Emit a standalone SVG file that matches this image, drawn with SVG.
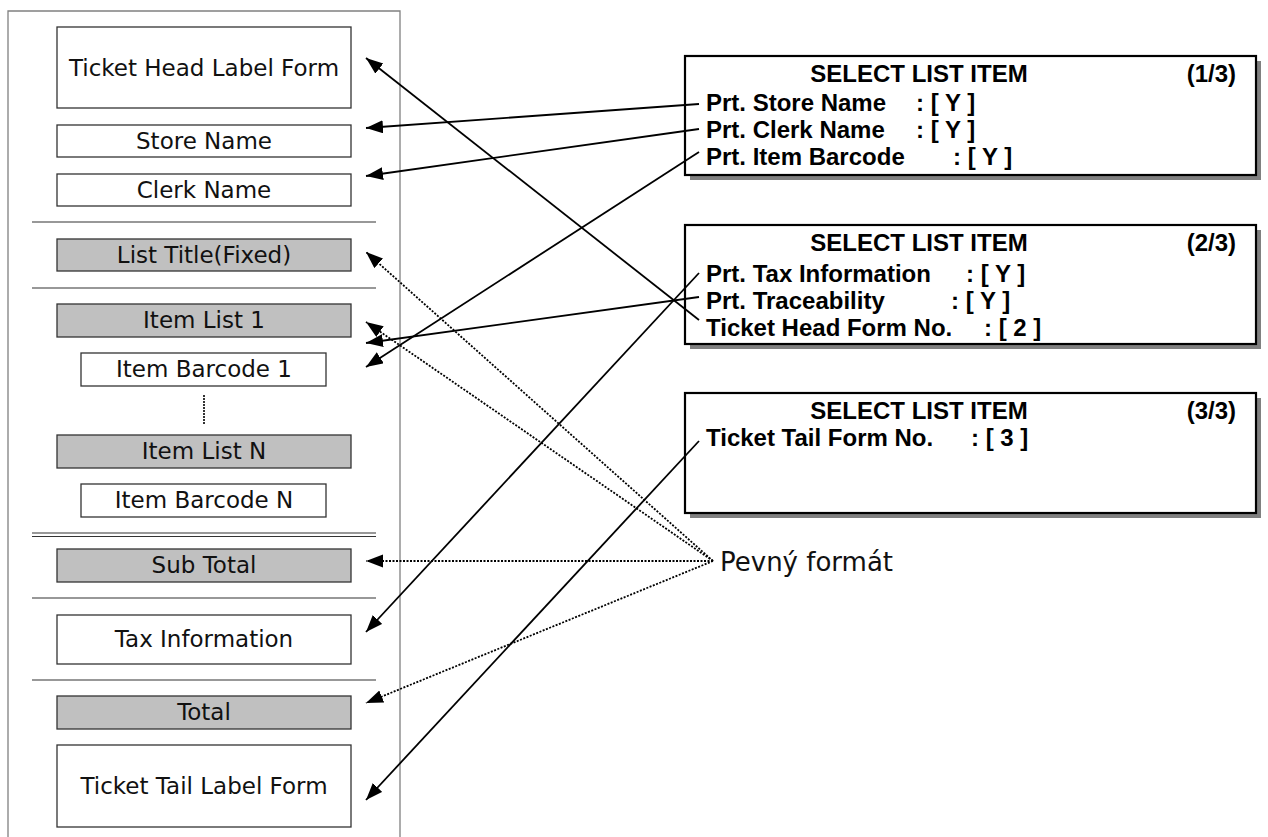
<svg xmlns="http://www.w3.org/2000/svg" width="1268" height="837" viewBox="0 0 1268 837">
<style>
.frame{fill:none;stroke:#808080;stroke-width:1.3}
.sep{stroke:#333;stroke-width:1.2}
.box{fill:#fff;stroke:#333;stroke-width:1.3}
.gray{fill:#c0c0c0;stroke:#333;stroke-width:1.3}
.lbl{font-family:"DejaVu Sans",Verdana,sans-serif;font-size:23px;fill:#111;text-anchor:middle}
.panel{fill:#fff;stroke:#000;stroke-width:2.2}
.shadow{fill:#808080}
.pt{font-family:"Liberation Sans",Arial,sans-serif;font-weight:bold;font-size:24px;fill:#000}
.ttl{text-anchor:middle}
.pg{text-anchor:end}
.conn{stroke:#000;stroke-width:1.8;fill:none}
.dot{stroke:#000;stroke-width:1.8;fill:none;stroke-dasharray:2 1.5}
.note{font-family:"DejaVu Sans",Verdana,sans-serif;font-size:26px;fill:#111}
</style>
<defs>
<marker id="ah" markerUnits="userSpaceOnUse" markerWidth="18" markerHeight="14" refX="17" refY="6.5" orient="auto">
<path d="M0,0 L17,6.5 L0,13 z" fill="#000"/>
</marker>
</defs>
<rect width="1268" height="837" fill="#fff"/>

<g id="ticket-frame">
<polyline class="frame" points="8,837 8,11 400,11 400,837"/>
<line class="sep" x1="32" y1="222" x2="376" y2="222"/>
<line class="sep" x1="32" y1="288" x2="376" y2="288"/>
<line class="sep" x1="32" y1="533" x2="376" y2="533"/>
<line class="sep" x1="32" y1="536.5" x2="376" y2="536.5"/>
<line class="sep" x1="32" y1="598" x2="376" y2="598"/>
<line class="sep" x1="32" y1="680" x2="376" y2="680"/>
<line x1="204" y1="395" x2="204" y2="425" stroke="#000" stroke-width="1.6" stroke-dasharray="2 1"/>
</g>

<g id="ticket-head"><rect class="box" x="57" y="27" width="294" height="81"/><text class="lbl" x="204" y="75.5">Ticket Head Label Form</text></g>
<g id="store-name"><rect class="box" x="57" y="125" width="294" height="32"/><text class="lbl" x="204" y="149">Store Name</text></g>
<g id="clerk-name"><rect class="box" x="57" y="174" width="294" height="32"/><text class="lbl" x="204" y="198">Clerk Name</text></g>
<g id="list-title"><rect class="gray" x="57" y="239" width="294" height="32"/><text class="lbl" x="204" y="263">List Title(Fixed)</text></g>
<g id="item-list-1"><rect class="gray" x="57" y="304" width="294" height="33"/><text class="lbl" x="204" y="328">Item List 1</text></g>
<g id="item-barcode-1"><rect class="box" x="81" y="353" width="245" height="33"/><text class="lbl" x="204" y="377">Item Barcode 1</text></g>
<g id="item-list-n"><rect class="gray" x="57" y="435" width="294" height="33"/><text class="lbl" x="204" y="459">Item List N</text></g>
<g id="item-barcode-n"><rect class="box" x="81" y="484" width="245" height="33"/><text class="lbl" x="204" y="508">Item Barcode N</text></g>
<g id="sub-total"><rect class="gray" x="57" y="549" width="294" height="33"/><text class="lbl" x="204" y="573">Sub Total</text></g>
<g id="tax-information"><rect class="box" x="57" y="615" width="294" height="49"/><text class="lbl" x="204" y="647">Tax Information</text></g>
<g id="total"><rect class="gray" x="57" y="696" width="294" height="33"/><text class="lbl" x="204" y="720">Total</text></g>
<g id="ticket-tail"><rect class="box" x="57" y="745" width="294" height="82"/><text class="lbl" x="204" y="794">Ticket Tail Label Form</text></g>

<g id="panel-1">
<rect class="shadow" x="690" y="61" width="571" height="119"/>
<rect class="panel" x="685" y="56" width="571" height="119"/>
<text class="pt ttl" x="919" y="82">SELECT LIST ITEM</text>
<text class="pt pg" x="1236" y="82">(1/3)</text>
<text class="pt" x="706" y="111">Prt. Store Name</text>
<text class="pt" x="916" y="111">: [ Y ]</text>
<text class="pt" x="706" y="138">Prt. Clerk Name</text>
<text class="pt" x="916" y="138">: [ Y ]</text>
<text class="pt" x="706" y="165">Prt. Item Barcode</text>
<text class="pt" x="953" y="165">: [ Y ]</text>
</g>

<g id="panel-2">
<rect class="shadow" x="690" y="230" width="571" height="119"/>
<rect class="panel" x="685" y="225" width="571" height="119"/>
<text class="pt ttl" x="919" y="251">SELECT LIST ITEM</text>
<text class="pt pg" x="1236" y="251">(2/3)</text>
<text class="pt" x="706" y="282">Prt. Tax Information</text>
<text class="pt" x="966" y="282">: [ Y ]</text>
<text class="pt" x="706" y="309">Prt. Traceability</text>
<text class="pt" x="951" y="309">: [ Y ]</text>
<text class="pt" x="706" y="336">Ticket Head Form No.</text>
<text class="pt" x="984" y="336">: [ 2 ]</text>
</g>

<g id="panel-3">
<rect class="shadow" x="690" y="398" width="571" height="120"/>
<rect class="panel" x="685" y="393" width="571" height="120"/>
<text class="pt ttl" x="919" y="419">SELECT LIST ITEM</text>
<text class="pt pg" x="1236" y="419">(3/3)</text>
<text class="pt" x="706" y="446">Ticket Tail Form No.</text>
<text class="pt" x="971" y="446">: [ 3 ]</text>
</g>

<g id="fixed-format-note"><text class="note" x="720" y="571">Pevný formát</text></g>

<g id="connectors">
<line class="conn" x1="699" y1="104" x2="366" y2="128" marker-end="url(#ah)"/>
<line class="conn" x1="699" y1="129" x2="366" y2="176" marker-end="url(#ah)"/>
<line class="conn" x1="699" y1="152" x2="366" y2="367" marker-end="url(#ah)"/>
<line class="conn" x1="699" y1="320" x2="366" y2="58" marker-end="url(#ah)"/>
<line class="conn" x1="699" y1="297" x2="366" y2="343" marker-end="url(#ah)"/>
<line class="conn" x1="699" y1="273" x2="366" y2="632" marker-end="url(#ah)"/>
<line class="conn" x1="699" y1="441" x2="366" y2="800" marker-end="url(#ah)"/>
<line class="dot" x1="713" y1="561" x2="366" y2="252" marker-end="url(#ah)"/>
<line class="dot" x1="713" y1="561" x2="366" y2="322" marker-end="url(#ah)"/>
<line class="dot" x1="713" y1="561" x2="366" y2="561" marker-end="url(#ah)"/>
<line class="dot" x1="713" y1="561" x2="366" y2="703" marker-end="url(#ah)"/>
</g>
</svg>
